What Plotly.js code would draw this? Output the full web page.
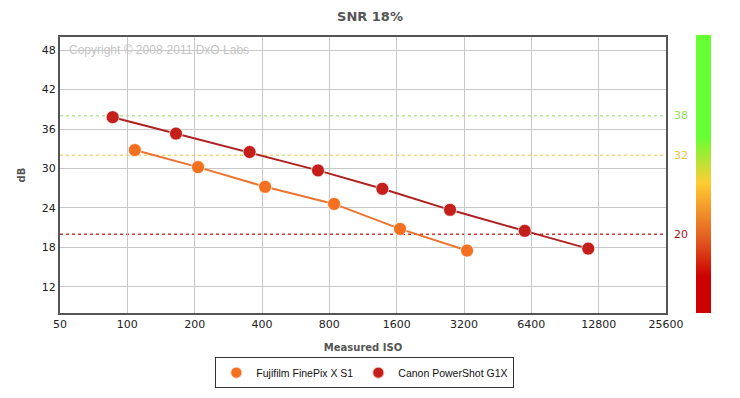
<!DOCTYPE html>
<html>
<head>
<meta charset="utf-8">
<script src="https://cdn.plot.ly/plotly-3.0.1.min.js"></script>
<style>html,body{margin:0;padding:0;background:#fff;}#chart{width:740px;height:398px;}</style>
</head>
<body>
<div id="chart"></div>
<script>
var isoTicks = [50, 100, 200, 400, 800, 1600, 3200, 6400, 12800, 25600];
var dbTicks = [12, 18, 24, 30, 36, 42, 48];

var fujiName = "Fujifilm FinePix X S1";
var fujiIso = [108, 207, 413, 840, 1656, 3302];
var fujiDb = [32.8, 30.2, 27.2, 24.6, 20.8, 17.5];

var canonName = "Canon PowerShot G1X";
var canonIso = [86, 165, 352, 712, 1381, 2771, 5980, 11500];
var canonDb = [37.8, 35.3, 32.5, 29.7, 26.9, 23.7, 20.5, 17.8];

var refLevels = [38, 32, 20];
var refLineColors = ["#b6e89a", "#f2d77a", "#c83a3a"];
var refLabelColors = ["#8ee05a", "#f2c040", "#aa1515"];

var series = [
  {name: fujiName, x: fujiIso, y: fujiDb, line: "#ec7430", marker: "#f27020"},
  {name: canonName, x: canonIso, y: canonDb, line: "#b02020", marker: "#c41f1a"}
];

var data = [];
series.forEach(function (s) {
  data.push({x: s.x, y: s.y, type: "scatter", mode: "lines", showlegend: false, hoverinfo: "skip",
    line: {color: s.line, width: 2}});
});
series.forEach(function (s) {
  data.push({x: s.x, y: s.y, name: s.name, type: "scatter", mode: "markers",
    marker: {color: s.marker, size: 13, line: {color: "rgba(255,255,255,0.7)", width: 1}}});
});
data.push({
  x: [null], y: [null], type: "scatter", mode: "markers", showlegend: false, hoverinfo: "skip",
  marker: {
    color: [0], cmin: 0, cmax: 1, showscale: true,
    colorscale: [[0, "#cc0000"], [0.13, "#cc0000"], [0.263, "#e25a20"], [0.468, "#ffcc33"], [0.633, "#66ff33"], [1, "#66ff33"]],
    colorbar: {
      x: 1.0495, xanchor: "left", y: 0.5036, yanchor: "middle",
      thickness: 15, thicknessmode: "pixels", len: 278, lenmode: "pixels",
      outlinewidth: 0, showticklabels: false, ticks: "", xpad: 0, ypad: 0
    }
  }
});

var shapes = refLevels.map(function (v, i) {
  return {type: "line", xref: "paper", yref: "y", x0: 0, x1: 1, y0: v, y1: v,
    line: {color: refLineColors[i], width: 1.5, dash: "dot"}, layer: "below"};
});

var annotations = refLevels.map(function (v, i) {
  return {xref: "paper", yref: "y", x: 1.01, y: v, xanchor: "left", yanchor: "middle",
    text: String(v), showarrow: false, font: {family: "DejaVu Sans, Verdana, sans-serif", size: 11, color: refLabelColors[i]}};
});
annotations.push({
  xref: "paper", yref: "paper", x: 0.012, y: 0.952, xanchor: "left", yanchor: "middle",
  text: "Copyright \u00a9 2008-2011 DxO Labs", showarrow: false,
  font: {family: "Liberation Sans, Arial, sans-serif", size: 12, color: "#c4c4c4"}
});

var layout = {
  width: 740, height: 398,
  margin: {l: 60, r: 74, t: 37, b: 85, pad: 0, autoexpand: false},
  paper_bgcolor: "#fff", plot_bgcolor: "#fff",
  title: {text: "<b>SNR 18%</b>", x: 0.5, xanchor: "center", y: 0.958, yanchor: "middle",
    font: {family: "DejaVu Sans, Verdana, sans-serif", size: 13, color: "#555"}},
  xaxis: {
    type: "log", range: [Math.log10(50), Math.log10(25600)],
    tickvals: isoTicks, ticktext: isoTicks.map(String), automargin: false,
    showgrid: true, gridcolor: "#c8c8c8", gridwidth: 1,
    showline: true, linecolor: "#555", linewidth: 2, mirror: true,
    ticks: "", zeroline: false,
    tickfont: {family: "DejaVu Sans, Verdana, sans-serif", size: 11, color: "#222"},
    title: {text: "<b>Measured ISO</b>", standoff: 14,
      font: {family: "DejaVu Sans, Verdana, sans-serif", size: 10, color: "#555"}}
  },
  yaxis: {
    range: [8, 50], tickvals: dbTicks, automargin: false,
    showgrid: true, gridcolor: "#c8c8c8", gridwidth: 1,
    showline: true, linecolor: "#555", linewidth: 2, mirror: true,
    ticks: "", zeroline: false,
    tickfont: {family: "DejaVu Sans, Verdana, sans-serif", size: 11, color: "#222"},
    title: {text: "<b>dB</b>", standoff: 14,
      font: {family: "DejaVu Sans, Verdana, sans-serif", size: 10, color: "#555"}}
  },
  showlegend: true,
  legend: {
    orientation: "h", x: 0.503, xanchor: "center", y: -0.16, yanchor: "top",
    bordercolor: "#333", borderwidth: 1, bgcolor: "#fff",
    font: {family: "Liberation Sans, Arial, sans-serif", size: 10.5, color: "#111"},
    itemsizing: "constant", itemwidth: 30, tracegroupgap: 0
  },
  shapes: shapes,
  annotations: annotations
};

Plotly.newPlot("chart", data, layout, {displayModeBar: false, staticPlot: true});
</script>
</body>
</html>
